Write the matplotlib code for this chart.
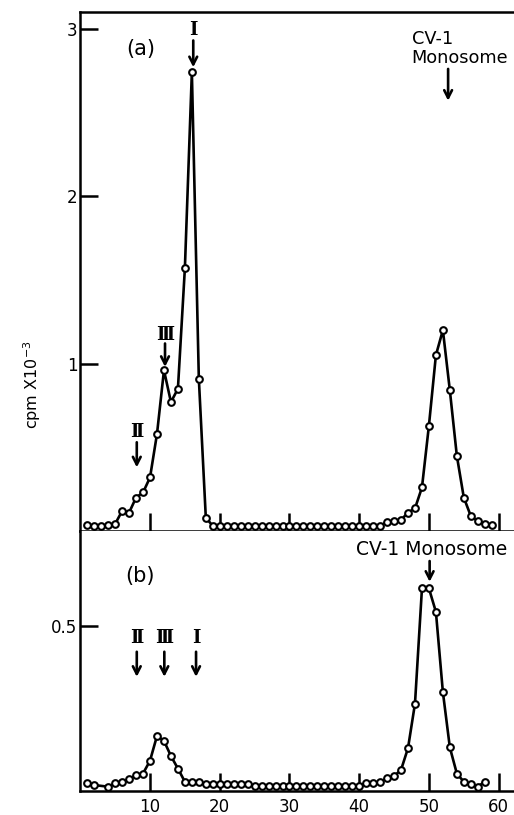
import matplotlib
matplotlib.use("Agg")
import matplotlib.pyplot as plt

# ---------------- data ----------------
frac_a = list(range(1, 60))
cpm_a = [0.036, 0.030, 0.030, 0.036, 0.042, 0.120, 0.110, 0.200, 0.230, 0.320,
         0.580, 0.960, 0.770, 0.850, 1.570, 2.740, 0.910, 0.080, 0.030, 0.030,
         0.030, 0.030, 0.030, 0.030, 0.030, 0.030, 0.030, 0.030, 0.030, 0.030,
         0.030, 0.030, 0.030, 0.030, 0.030, 0.030, 0.030, 0.030, 0.030, 0.030,
         0.030, 0.030, 0.030, 0.055, 0.060, 0.066, 0.110, 0.135, 0.260, 0.630,
         1.050, 1.200, 0.840, 0.450, 0.200, 0.090, 0.060, 0.040, 0.035]

frac_b = [1, 2] + list(range(4, 59))
cpm_b = [0.025, 0.018, 0.013, 0.023, 0.026, 0.035, 0.048, 0.053, 0.092,
         0.167, 0.152, 0.106, 0.068, 0.028, 0.028, 0.028, 0.020, 0.020, 0.020,
         0.020, 0.020, 0.020, 0.020, 0.016, 0.016, 0.016, 0.016, 0.016, 0.016,
         0.016, 0.016, 0.016, 0.016, 0.016, 0.016, 0.016, 0.016, 0.016, 0.016,
         0.023, 0.025, 0.028, 0.038, 0.045, 0.064, 0.130, 0.265, 0.614, 0.614,
         0.543, 0.300, 0.132, 0.053, 0.028, 0.020, 0.013, 0.028]

xticks = [10, 20, 30, 40, 50, 60]
yticks_a = [1, 2, 3]
yticks_b = [0.5]

# markers (label, x, label_y, arrow_top, arrow_bottom)
marks_a = [("Ⅰ", 16.2, 2.99, 2.93, 2.77),
           ("Ⅲ", 12.15, 1.17, 1.12, 0.98),
           ("Ⅱ", 8.1, 0.59, 0.53, 0.38)]
marks_b = [("Ⅱ", 8.1, 0.464, 0.422, 0.346),
           ("Ⅲ", 12.05, 0.464, 0.422, 0.346),
           ("Ⅰ", 16.6, 0.464, 0.422, 0.346)]

# ---------------- figure ----------------
plt.rcParams['font.family'] = ['DejaVu Sans']
fig = plt.figure(figsize=(5.14, 8.15), dpi=100)
L, W = 80.3 / 514, 433.7 / 514
ax_a = fig.add_axes([L, (815 - 531) / 815, W, (531 - 12) / 815])
ax_b = fig.add_axes([L, (815 - 791) / 815, W, (791 - 531) / 815])

line_kw = dict(color='black', lw=1.9, marker='o', ms=4.8, mfc='white',
               mec='black', mew=1.5, clip_on=False, zorder=3)
ax_a.plot(frac_a, cpm_a, **line_kw)
ax_b.plot(frac_b, cpm_b, **line_kw)

ax_a.set_xlim(0, 62.2)
ax_b.set_xlim(0, 62.2)
ax_a.set_ylim(0, 3.1)
ax_b.set_ylim(0, 0.788)

for ax in (ax_a, ax_b):
    ax.spines['right'].set_visible(False)
    for s in ax.spines.values():
        s.set_linewidth(1.8)
    ax.tick_params(axis='both', direction='in', length=13, width=1.8,
                   labelsize=12)
    ax.set_xticks(xticks)
ax_b.spines['top'].set_visible(False)
ax_a.tick_params(axis='x', labelbottom=False)
ax_a.tick_params(axis='y', pad=2)
ax_b.tick_params(axis='y', pad=2)
ax_b.tick_params(axis='x', pad=5)
ax_a.set_yticks(yticks_a)
ax_a.set_yticklabels([str(v) for v in yticks_a])
ax_b.set_yticks(yticks_b)
ax_b.set_yticklabels(['0.5'])

arrow_kw = dict(arrowstyle='->,head_length=0.55,head_width=0.28', lw=1.9,
                color='black', shrinkA=0, shrinkB=0)
roman_kw = dict(ha='center', va='center', fontsize=13,
                family=['DejaVu Serif'], fontweight='bold')

for lab, x, ly, at, ab in marks_a:
    ax_a.text(x, ly, lab, **roman_kw)
    ax_a.annotate('', xy=(x, ab), xytext=(x, at), arrowprops=arrow_kw)
for lab, x, ly, at, ab in marks_b:
    ax_b.text(x, ly, lab, **roman_kw)
    ax_b.annotate('', xy=(x, ab), xytext=(x, at), arrowprops=arrow_kw)

ax_a.text(8.6, 2.88, '(a)', ha='center', va='center', fontsize=15)
ax_b.text(8.6, 0.652, '(b)', ha='center', va='center', fontsize=15)

ax_a.text(47.5, 2.88, 'CV-1\nMonosome', ha='left', va='center',
          fontsize=12.8, linespacing=1.05)
ax_a.annotate('', xy=(52.75, 2.57), xytext=(52.75, 2.76), arrowprops=arrow_kw)

ax_b.text(50.4, 0.733, 'CV-1 Monosome', ha='center', va='center', fontsize=13.5)
ax_b.annotate('', xy=(50.1, 0.634), xytext=(50.1, 0.697), arrowprops=arrow_kw)

fig.text(32 / 514, 1 - 385 / 815, 'cpm X10$^{-3}$', rotation=90,
         ha='center', va='center', fontsize=11.5)

fig.savefig('out.png', dpi=100)
